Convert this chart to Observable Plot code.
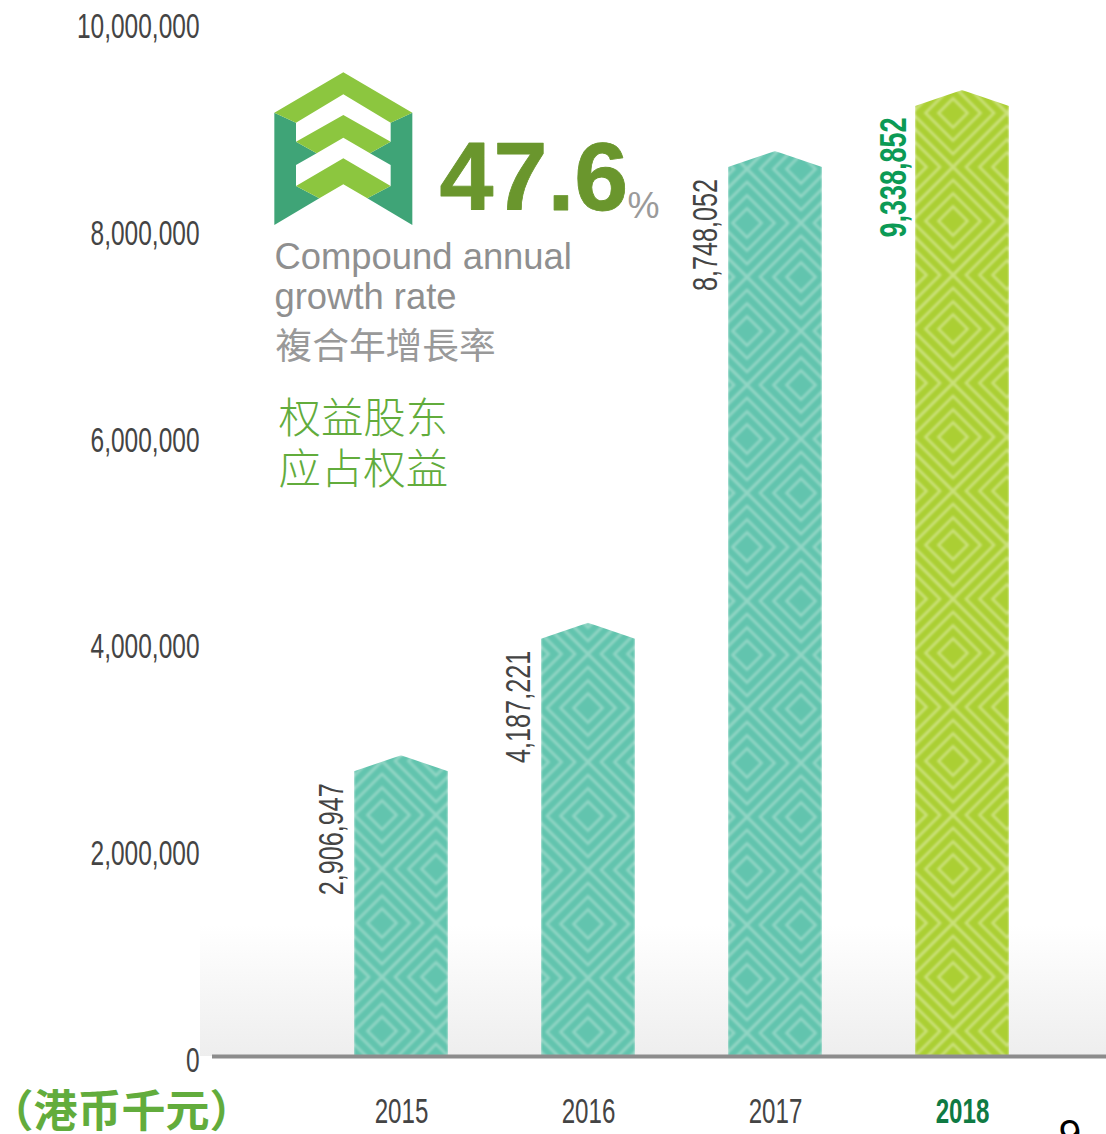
<!DOCTYPE html>
<html>
<head>
<meta charset="utf-8">
<style>html,body{margin:0;padding:0;background:#fff;overflow:hidden}svg{display:block}</style>
<script src="https://cdn.jsdelivr.net/npm/d3@7"></script>
<script src="https://cdn.jsdelivr.net/npm/@observablehq/plot@0.6"></script>
</head>
<body>
<div id="chart"></div>
<script>
const years = ["2015", "2016", "2017", "2018"];
const equity = [2906947, 4187221, 8748052, 9338852];
const yTicks = [0, 2000000, 4000000, 6000000, 8000000, 10000000];
const rateValue = ["47.6"];
const rateUnit = ["%"];
const rateEnglish = ["Compound annual", "growth rate"];
const rateChinese = ["複合年增長率"];
const seriesTitle = ["权益股东", "应占权益"];
const unitLabel = ["（港币千元）"];
const pageNumber = ["9"];

const rows = years.map((year, i) => ({year, value: equity[i]}));
const latest = years[years.length - 1];
const fmt = d3.format(",");
const LATIN = "'Liberation Sans', Arial, sans-serif";
const SC = "'Noto Sans CJK SC', sans-serif";
const TC = "'Noto Sans CJK TC', sans-serif";
const GREEN = "#62ac3c";

// squeeze glyphs horizontally, keeping their anchor
const squeeze = (sx) => (index, scales, values, dims, ctx, next) => {
  const g = next(index, scales, values, dims, ctx);
  d3.select(g).selectAll("text").each(function () {
    const t = this.getAttribute("transform") || "";
    this.setAttribute("transform", `${t} scale(${sx},1)`);
  });
  return g;
};

// pentagon top on each bar, softened stripes
const pointed = (index, scales, values, dims, ctx, next) => {
  const g = next(index, scales, values, dims, ctx);
  d3.select(g).selectAll("rect")
    .style("filter", "blur(0.8px)")
    .style("clip-path", "polygon(0 16px, 50% 0, 100% 16px, 100% 100%, 0 100%)");
  return g;
};

// decoration: defs, ground gradient
const ground = () => {
  const g = d3.create("svg:g");
  const defs = g.append("defs");
  const grad = defs.append("linearGradient").attr("id", "ground")
    .attr("x1", 0).attr("x2", 0).attr("y1", 0).attr("y2", 1);
  grad.append("stop").attr("offset", 0).attr("stop-color", "#ffffff");
  grad.append("stop").attr("offset", 1).attr("stop-color", "#eeeeee");
  const half = 54, tile = half * 2, radii = [14.5, 27.5, 41, half];
  const tiles = [
    {id: "pat-2015", cx: 382, cy: 815, base: "#62c4ae", line: "#92d6c5"},
    {id: "pat-2016", cx: 588, cy: 816, base: "#62c4ae", line: "#92d6c5"},
    {id: "pat-2017", cx: 747, cy: 223, base: "#62c4ae", line: "#92d6c5"},
    {id: "pat-2018", cx: 953, cy: 113, base: "#abcf33", line: "#cbe17a"}
  ];
  for (const p of tiles) {
    const pat = defs.append("pattern").attr("id", p.id)
      .attr("patternUnits", "userSpaceOnUse")
      .attr("width", tile).attr("height", tile)
      .attr("patternTransform", `translate(${p.cx},${p.cy})`);
    pat.append("rect").attr("width", tile).attr("height", tile).attr("fill", p.base);
    for (const [cx, cy] of [[0, 0], [tile, 0], [0, tile], [tile, tile], [half, half]]) {
      for (const r of radii) {
        pat.append("path")
          .attr("d", `M${cx - r},${cy}L${cx},${cy - r}L${cx + r},${cy}L${cx},${cy + r}Z`)
          .attr("fill", "none").attr("stroke", p.line).attr("stroke-width", 2.8);
      }
    }
  }
  g.append("rect").attr("x", 200).attr("y", 925).attr("width", 906).attr("height", 131)
    .attr("fill", "url(#ground)");
  return g.node();
};

// decoration: the rising-chevron logo
const logo = () => {
  const g = d3.create("svg:g").attr("transform", "translate(260,60) scale(0.33333)");
  const dark = [
    "43,158 108,188 108,245 170,280 108,315 108,378 178,415 43,495",
    "457,158 392,188 392,245 330,280 392,315 392,378 322,415 457,495"
  ];
  const light = [
    "43,158 250,37 457,158 392,188 250,103 108,188",
    "108,245 250,165 392,245 330,280 250,233 170,280",
    "108,378 250,295 392,378 322,415 250,373 178,415"
  ];
  dark.forEach(p => g.append("polygon").attr("points", p).attr("fill", "#3fa477"));
  light.forEach(p => g.append("polygon").attr("points", p).attr("fill", "#8cc63f"));
  return g.node();
};

const note = (data, x, baseline, opts) => Plot.text(data, {
  text: d => d, frameAnchor: "top-left", textAnchor: "start", lineAnchor: "bottom",
  dx: x - 200, dy: baseline, ...opts
});

const chart = Plot.plot({
  width: 1106,
  height: 1134,
  marginLeft: 200,
  marginRight: 0,
  marginTop: 0,
  marginBottom: 78,
  style: {background: "#fff", fontFamily: LATIN, overflow: "hidden"},
  x: {type: "band", domain: years, range: [306.1, 1055.6], paddingInner: 0.5, paddingOuter: 0.25, label: null, axis: null},
  y: {domain: [0, 10000000], range: [1056, 21.5], label: null, axis: null},
  color: {type: "identity"},
  marks: [
    ground,
    Plot.barY(rows, {x: "year", y: "value", fill: d => `url(#pat-${d.year})`, render: pointed}),
    Plot.ruleY([0], {stroke: "#8c8c8c", strokeWidth: 4, insetLeft: 12}),
    Plot.axisY({
      ticks: yTicks, tickFormat: fmt, tickSize: 0, tickPadding: 1, label: null,
      fontSize: 35, fill: "#444", dy: 4.5, render: squeeze(0.7)
    }),
    Plot.axisX({
      ticks: years.filter(d => d !== latest), tickSize: 0, tickPadding: 55, label: null,
      lineAnchor: "middle", fontSize: 35, fill: "#444", render: squeeze(0.69)
    }),
    Plot.axisX({
      ticks: [latest], tickSize: 0, tickPadding: 55, label: null,
      lineAnchor: "middle", fontSize: 35, fontWeight: "bold", fill: "#0f7a43", render: squeeze(0.69)
    }),
    Plot.text(rows.filter(d => d.year !== latest), {
      x: "year", y: "value", text: d => fmt(d.value), rotate: -90, textAnchor: "end",
      lineAnchor: "middle", dx: -70, dy: 27.5, fontSize: 36, fill: "#444", render: squeeze(0.7)
    }),
    Plot.text(rows.filter(d => d.year === latest), {
      x: "year", y: "value", text: d => fmt(d.value), rotate: -90, textAnchor: "end",
      lineAnchor: "middle", dx: -68, dy: 27, fontSize: 36, fontWeight: "bold", fill: "#0c9a55", render: squeeze(0.75)
    }),
    logo,
    note(rateValue, 439, 209, {fontSize: 97, fontWeight: "bold", fill: "#6a962d", stroke: "#6a962d", strokeWidth: 0.8, fontFamily: LATIN}),
    note(rateUnit, 627, 217, {fontSize: 36, fill: "#9a9a9a", fontFamily: LATIN}),
    note([rateEnglish[0]], 274, 268, {fontSize: 36.4, fill: "#8f8f8f", fontFamily: LATIN}),
    note([rateEnglish[1]], 274, 308, {fontSize: 36.4, fill: "#8f8f8f", fontFamily: LATIN}),
    note(rateChinese, 275, 358, {fontSize: 36.7, fill: "#999", fontFamily: TC}),
    note([seriesTitle[0]], 278, 432, {fontSize: 42.4, fontWeight: 300, fill: GREEN, fontFamily: SC}),
    note([seriesTitle[1]], 278, 483, {fontSize: 42.4, fontWeight: 300, fill: GREEN, fontFamily: SC}),
    note(unitLabel, -11, 1126, {fontSize: 44, fontWeight: "bold", fill: GREEN, fontFamily: SC}),
    note(pageNumber, 1058, 1148, {fontSize: 40, fill: "#000", fontFamily: "'Noto Sans', sans-serif"})
  ]
});
document.getElementById("chart").append(chart);
</script>
</body>
</html>
